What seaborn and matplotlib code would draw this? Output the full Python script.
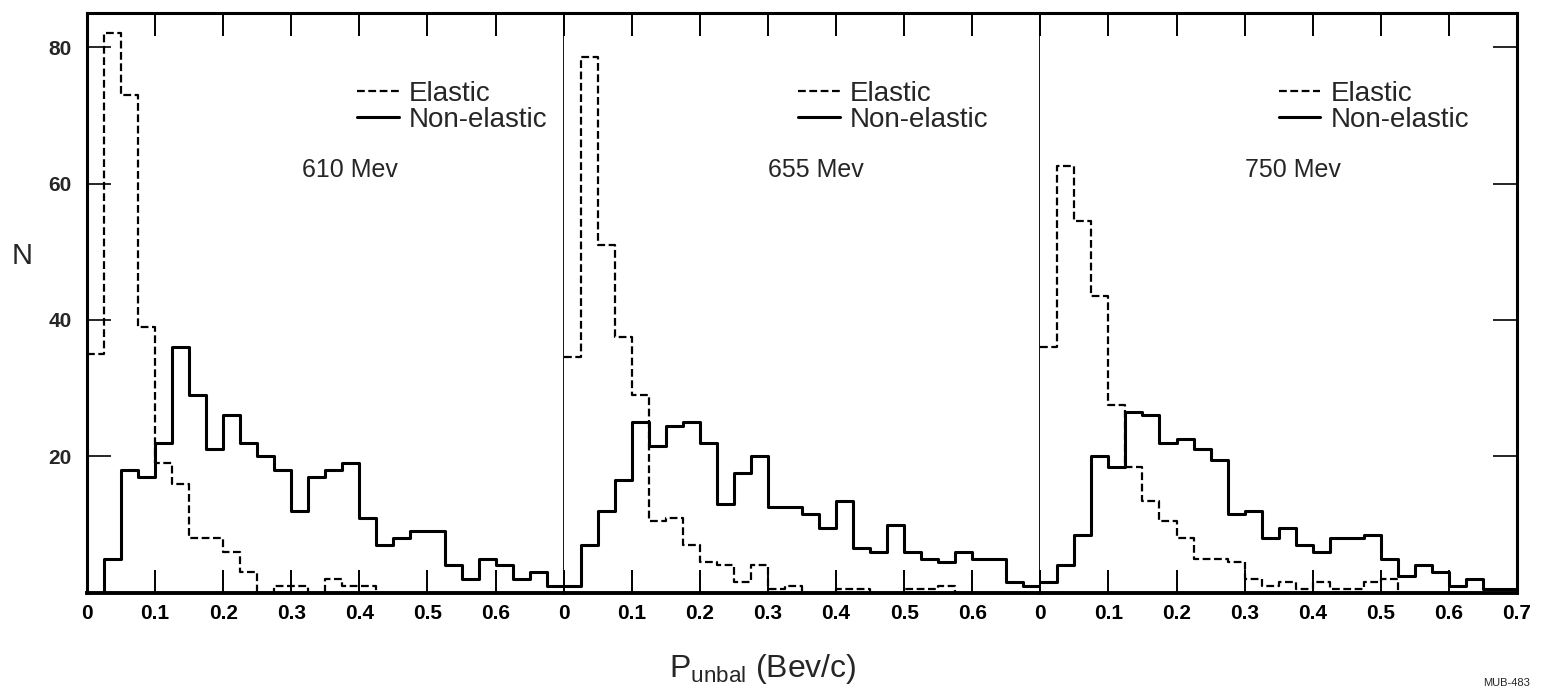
import numpy as np
import pandas as pd
import matplotlib
matplotlib.use("Agg")
import matplotlib.pyplot as plt
import seaborn as sns

# ---------------- data (counts per 0.025 Bev/c bin, 0 .. 0.7) ----------------
bin_width = 0.025
n_bins = 28
energies = ["610 Mev", "655 Mev", "750 Mev"]

p610_elastic = [35, 82, 73, 39, 19, 16, 8, 8, 6, 3, 0, 1, 1, 0, 2, 1, 1,
                0, 0, 0, 0, 0, 0, 0, 0, 0, 0, 0]
p610_nonelastic = [0, 5, 18, 17, 22, 36, 29, 21, 26, 22, 20, 18, 12, 17, 18, 19,
                   11, 7, 8, 9, 9, 4, 2, 5, 4, 2, 3, 1]

p655_elastic = [34.5, 78.5, 51, 37.5, 29, 10.5, 11, 7, 4.5, 4, 1.5, 4, 0.5, 1,
                0, 0, 0.5, 0.5, 0, 0, 0.5, 0.5, 1, 0, 0, 0, 0, 0]
p655_nonelastic = [1, 7, 12, 16.5, 25, 21.5, 24.5, 25, 22, 13, 17.5, 20, 12.5, 12.5,
                   11.5, 9.5, 13.5, 6.5, 6, 10, 6, 5, 4.5, 6, 5, 5, 1.5, 1]

p750_elastic = [36, 62.5, 54.5, 43.5, 27.5, 18.5, 13.5, 10.5, 8, 5, 5, 4.5, 2, 1,
                1.5, 0.5, 1.5, 0.5, 0.5, 1.5, 2, 0, 0, 0, 0, 0, 0, 0]
p750_nonelastic = [1.5, 4, 8.5, 20, 18.5, 26.5, 26, 22, 22.5, 21, 19.5, 11.5, 12, 8,
                   9.5, 7, 6, 8, 8, 8.5, 5, 2.5, 4, 3, 1, 2, 0.5, 0.5]

elastic = [p610_elastic, p655_elastic, p750_elastic]
nonelastic = [p610_nonelastic, p655_nonelastic, p750_nonelastic]

x_labels_short = ["0", "0.1", "0.2", "0.3", "0.4", "0.5", "0.6"]
x_labels_long = ["0", "0.1", "0.2", "0.3", "0.4", "0.5", "0.6", "0.7"]
y_ticks = [20, 40, 60, 80]
y_labels = ["20", "40", "60", "80"]

# ---------------- style ----------------
sns.set_style("white")
plt.rcParams["font.family"] = ["Liberation Sans", "DejaVu Sans"]
plt.rcParams["mathtext.fontset"] = "custom"
plt.rcParams["mathtext.rm"] = "Liberation Sans"
plt.rcParams["mathtext.it"] = "Liberation Sans:italic"
plt.rcParams["mathtext.bf"] = "Liberation Sans:bold"

centers = (np.arange(n_bins) + 0.5) * bin_width

W, H = 1542, 690
fig, axes = plt.subplots(1, 3, sharey=True, figsize=(W / 100, H / 100), dpi=100)
fig.subplots_adjust(left=87 / W, right=1517 / W, bottom=1 - 592.7 / H,
                    top=1 - 13 / H, wspace=0)

dash_style = (0, (3.5, 1.6))
legend_x = [0.3965, 0.344, 0.350]
text_x = [0.386, 0.370, 0.371]

for i, ax in enumerate(axes):
    df = pd.DataFrame({"p": centers, "el": elastic[i], "nel": nonelastic[i]})
    sns.histplot(data=df, x="p", weights="el", binwidth=bin_width,
                 binrange=(0, n_bins * bin_width), element="step",
                 fill=False, color="black", linewidth=1.6, linestyle=dash_style,
                 label="Elastic", ax=ax)
    sns.histplot(data=df, x="p", weights="nel", binwidth=bin_width,
                 binrange=(0, n_bins * bin_width), element="step",
                 fill=False, color="black", linewidth=2.2,
                 label="Non-elastic", ax=ax)
    ax.set_xlim(0, 0.7)
    ax.set_ylim(0, 85)
    ax.set_xlabel("")
    ax.set_ylabel("")
    labels = x_labels_long if i == 2 else x_labels_short
    ax.set_xticks([float(s) for s in labels])
    ax.set_xticklabels(labels, fontweight="bold")
    ax.tick_params(axis="x", which="both", direction="in", length=16.5, width=1.4,
                   top=True, bottom=True, labeltop=False, labelsize=15, pad=8,
                   colors="black")
    for side in ["top", "bottom", "left", "right"]:
        ax.spines[side].set_color("black")
        ax.spines[side].set_linewidth(2.2)
    ax.spines["bottom"].set_linewidth(2.8)

    ax.legend(loc="upper left", bbox_to_anchor=(legend_x[i], 75.0),
              bbox_transform=ax.transData, frameon=False, fontsize=20,
              handlelength=1.5, handletextpad=0.36, labelspacing=0.0,
              borderpad=0, borderaxespad=0)
    ax.text(text_x[i], 62, energies[i], ha="center", va="center", fontsize=18)

axes[0].set_yticks(y_ticks)
axes[0].set_yticklabels(y_labels, fontweight="bold")
axes[0].tick_params(axis="y", direction="in", length=17, width=1.4, left=True,
                    right=False, labelleft=True, labelsize=15, pad=11)
axes[1].tick_params(axis="y", left=False, right=False, labelleft=False)
axes[2].tick_params(axis="y", direction="in", length=17, width=1.4, left=False,
                    right=True, labelleft=False, labelright=False)

axes[0].spines["right"].set_linewidth(1.3)
axes[1].spines["left"].set_visible(False)
axes[1].spines["right"].set_linewidth(1.3)
axes[2].spines["left"].set_visible(False)

fig.text(22 / W, 1 - 256 / H, "N", fontsize=21, ha="center", va="center")
fig.text(763 / W, 1 - 677 / H, r"P$_{\mathrm{unbal}}$ (Bev/c)", fontsize=23,
         ha="center", va="baseline")
fig.text(1530 / W, 1 - 688 / H, "MUB-483", fontsize=8, ha="right", va="bottom")

fig.savefig("out.png", dpi=100)
